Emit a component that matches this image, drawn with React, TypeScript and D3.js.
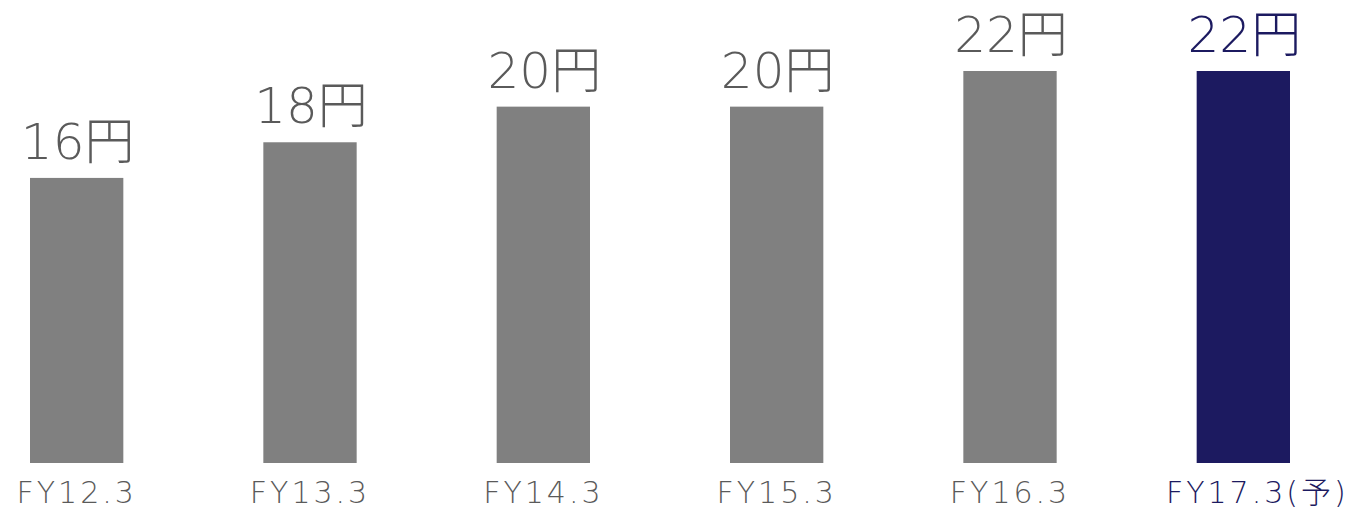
import React from 'react';
import * as d3 from 'd3';

const categories = ['FY12.3', 'FY13.3', 'FY14.3', 'FY15.3', 'FY16.3', 'FY17.3(予)'];
const dividends = [16, 18, 20, 20, 22, 22];
const valueLabels = ['16円', '18円', '20円', '20円', '22円', '22円'];
const forecast = [false, false, false, false, false, true];

const width = 1352;
const height = 512;
const baseY = 463;

const GRAY = '#808080';
const NAVY = '#1c1a60';
const TEXT_GRAY = '#5a5a5a';
const FONT = '"DejaVu Sans", "Noto Sans CJK JP", sans-serif';

export default function App() {
  const x = d3.scaleBand<string>()
    .domain(categories)
    .range([30, 1290])
    .paddingInner(0.6)
    .paddingOuter(0);

  const y = d3.scaleLinear()
    .domain([0, 22])
    .range([baseY, 71]);

  return (
    <svg
      width={width}
      height={height}
      style={{ position: 'absolute', left: 0, top: 0, background: '#fff' }}
      fontFamily={FONT}
    >
      {categories.map((c, i) => {
        const bx = x(c) ?? 0;
        const cx = bx + x.bandwidth() / 2;
        const fill = forecast[i] ? NAVY : GRAY;
        const textFill = forecast[i] ? NAVY : TEXT_GRAY;
        return (
          <g key={c}>
            <rect
              x={bx}
              y={y(dividends[i])}
              width={x.bandwidth()}
              height={baseY - y(dividends[i])}
              fill={fill}
            />
            <text
              x={cx + 1}
              y={y(dividends[i]) - 19}
              textAnchor="middle"
              fontSize={50}
              fontWeight={200}
              fill={textFill}
            >
              {valueLabels[i]}
            </text>
            <text
              x={cx + (forecast[i] ? 14 : 0)}
              y={503}
              textAnchor="middle"
              fontSize={30}
              fontWeight={200}
              letterSpacing={3}
              fill={textFill}
            >
              {c}
            </text>
          </g>
        );
      })}
    </svg>
  );
}
